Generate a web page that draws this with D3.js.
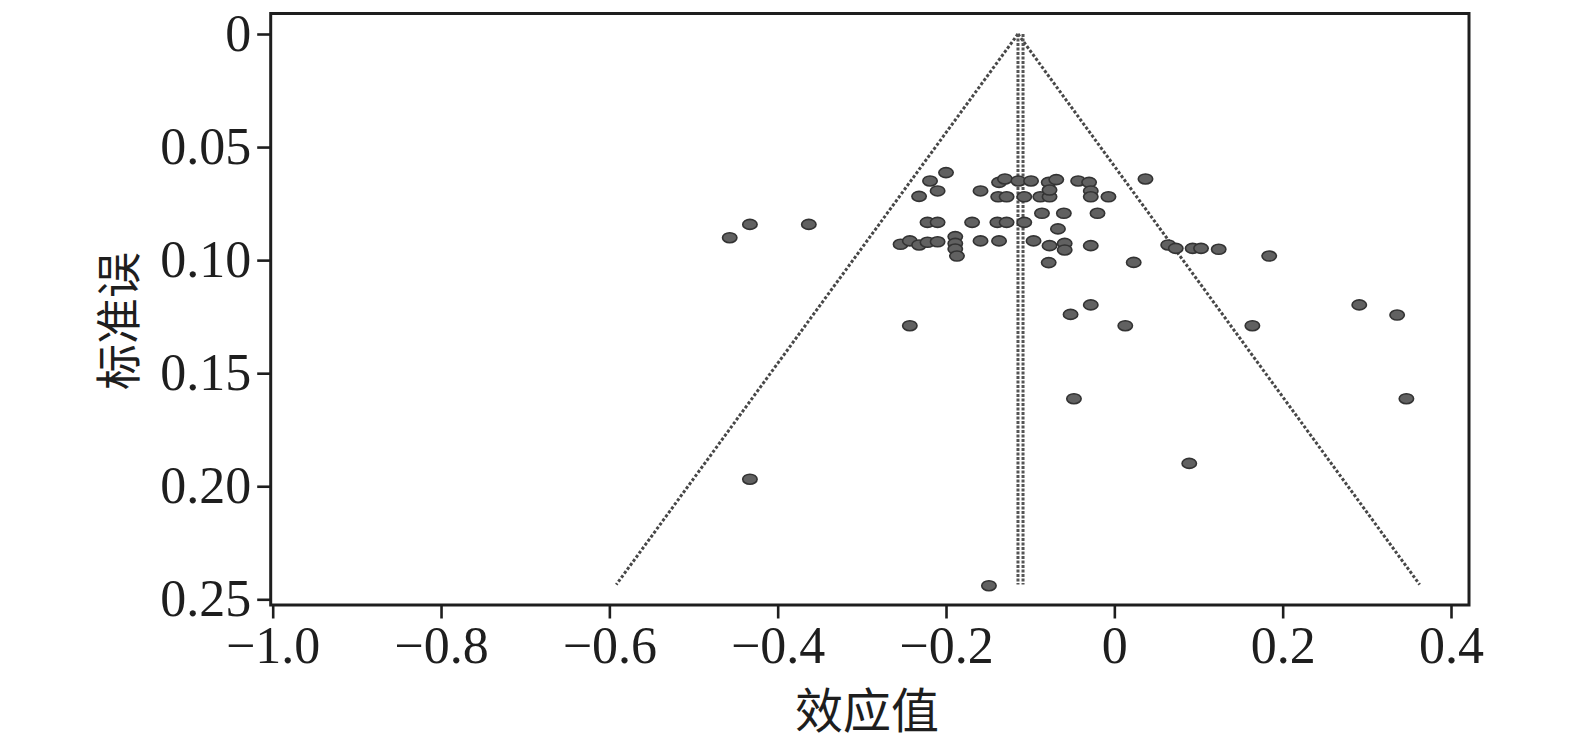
<!DOCTYPE html>
<html>
<head>
<meta charset="utf-8">
<script src="https://cdn.jsdelivr.net/npm/d3@7"></script>
<style>
  html, body { margin: 0; padding: 0; background: #fff; }
  svg { display: block; }
</style>
</head>
<body>
<div id="funnel"></div>
<script>
// 效应值 (x) 与 标准误 (y)
var effectSizes = [
  -0.457, -0.433, -0.363, -0.433, -0.243, -0.149,
  -0.200, -0.219, -0.210, -0.232, -0.222, -0.210,
  -0.254, -0.243, -0.232, -0.222, -0.210,
  -0.189, -0.189, -0.189, -0.187,
  -0.169, -0.159, -0.159, -0.137, -0.139, -0.128, -0.107,
  -0.137, -0.130, -0.114, -0.099, -0.078, -0.069, -0.043, -0.030,
  -0.138, -0.128, -0.107, -0.088, -0.077, -0.077, -0.028, -0.028, -0.007,
  0.037, -0.086, -0.060, -0.020, -0.067, -0.096,
  -0.077, -0.059, -0.059, -0.028, -0.078, 0.023,
  0.064, 0.073, 0.093, 0.103, 0.124, 0.184,
  0.291, 0.336, 0.013, 0.164, 0.347, 0.089,
  -0.052, -0.028, -0.048
];
var standardErrors = [
  0.0901, 0.0842, 0.0842, 0.1969, 0.1290, 0.2440,
  0.0613, 0.0650, 0.0694, 0.0718, 0.0833, 0.0833,
  0.0930, 0.0915, 0.0933, 0.0921, 0.0919,
  0.0896, 0.0926, 0.0951, 0.0982,
  0.0833, 0.0694, 0.0915, 0.0915, 0.0833, 0.0833, 0.0833,
  0.0656, 0.0641, 0.0650, 0.0650, 0.0656, 0.0644, 0.0650, 0.0656,
  0.0720, 0.0720, 0.0720, 0.0720, 0.0720, 0.0690, 0.0694, 0.0720, 0.0720,
  0.0641, 0.0793, 0.0793, 0.0793, 0.0862, 0.0915,
  0.0936, 0.0926, 0.0955, 0.0936, 0.1011, 0.1010,
  0.0933, 0.0948, 0.0948, 0.0948, 0.0952, 0.0982,
  0.1198, 0.1243, 0.1290, 0.1290, 0.1613, 0.1899,
  0.1240, 0.1198, 0.1613
];
var pooledEffect = -0.1145;   // 合并效应值（漏斗顶点）
var pooledEffect2 = -0.1085;  // 第二条参考线
var seMax = 0.2435;           // 漏斗底部的标准误
var zCrit = 1.96;

var xTickValues = [-1.0, -0.8, -0.6, -0.4, -0.2, 0, 0.2, 0.4];
var xTickLabels = ["\u22121.0", "\u22120.8", "\u22120.6", "\u22120.4", "\u22120.2", "0", "0.2", "0.4"];
var yTickValues = [0, 0.05, 0.10, 0.15, 0.20, 0.25];
var yTickLabels = ["0", "0.05", "0.10", "0.15", "0.20", "0.25"];
var xTitle = "效应值";
var yTitle = "标准误";

function draw() {
  var width = 1575;
  var height = 748;
  // 绘图框
  var frame = { left: 270.7, top: 13.5, right: 1469, bottom: 605 };
  var numFont = '"Liberation Serif", "Times New Roman", serif';
  var cjkFont = '"Noto Sans CJK SC", sans-serif';

  var svg = d3
    .select("#funnel")
    .append("svg")
    .attr("width", width)
    .attr("height", height)
    .attr("viewBox", [0, 0, width, height]);

  var x = d3.scaleLinear().domain([-1.0, 0.4]).range([272.7, 1451]);
  var y = d3.scaleLinear().domain([0, 0.25]).range([34, 599.3]);

  // 漏斗线
  var funnelLeft = [
    { e: pooledEffect, s: 0 },
    { e: pooledEffect - zCrit * seMax, s: seMax }
  ];
  var funnelRight = [
    { e: pooledEffect, s: 0 },
    { e: pooledEffect + zCrit * seMax, s: seMax }
  ];
  var line = d3
    .line()
    .x(function (d) { return x(d.e); })
    .y(function (d) { return y(d.s); });

  [funnelLeft, funnelRight].forEach(function (pts) {
    svg
      .append("path")
      .datum(pts)
      .attr("fill", "none")
      .attr("stroke", "#474747")
      .attr("stroke-width", 3)
      .attr("stroke-dasharray", "3,2")
      .attr("d", line);
  });

  // 合并效应竖线（两条）
  [pooledEffect, pooledEffect2].forEach(function (v) {
    svg
      .append("path")
      .datum([{ e: v, s: 0 }, { e: v, s: seMax }])
      .attr("fill", "none")
      .attr("stroke", "#555")
      .attr("stroke-width", 3)
      .attr("stroke-dasharray", "3,1.5")
      .attr("d", line);
  });

  // 散点
  var points = effectSizes.map(function (e, i) {
    return { e: e, s: standardErrors[i] };
  });
  svg
    .append("g")
    .selectAll("ellipse")
    .data(points)
    .enter()
    .append("ellipse")
    .attr("cx", function (d) { return x(d.e); })
    .attr("cy", function (d) { return y(d.s); })
    .attr("rx", 7.2)
    .attr("ry", 5)
    .attr("fill", "#616161")
    .attr("stroke", "#333")
    .attr("stroke-width", 1.6);

  // 边框
  svg
    .append("rect")
    .attr("x", frame.left)
    .attr("y", frame.top)
    .attr("width", frame.right - frame.left)
    .attr("height", frame.bottom - frame.top)
    .attr("fill", "none")
    .attr("stroke", "#1e1e1e")
    .attr("stroke-width", 3);

  // y轴
  var yAxis = svg
    .append("g")
    .attr("transform", "translate(" + frame.left + ",0)")
    .call(
      d3.axisLeft(y)
        .tickValues(yTickValues)
        .tickSize(13.5)
        .tickPadding(6)
        .tickFormat(function (d, i) { return yTickLabels[i]; })
    );
  yAxis.select(".domain").remove();
  yAxis.selectAll(".tick line").attr("stroke", "#1e1e1e").attr("stroke-width", 2.6);
  yAxis
    .selectAll(".tick text")
    .attr("fill", "#1e1e1e")
    .style("font-family", numFont)
    .style("font-size", "52px");

  // x轴
  var xAxis = svg
    .append("g")
    .attr("transform", "translate(0," + frame.bottom + ")")
    .call(
      d3.axisBottom(x)
        .tickValues(xTickValues)
        .tickSize(13.5)
        .tickPadding(8)
        .tickFormat(function (d, i) { return xTickLabels[i]; })
    );
  xAxis.select(".domain").remove();
  xAxis.selectAll(".tick line").attr("stroke", "#1e1e1e").attr("stroke-width", 2.6);
  xAxis
    .selectAll(".tick text")
    .attr("fill", "#1e1e1e")
    .style("font-family", numFont)
    .style("font-size", "52px");

  // 坐标轴标题
  svg
    .append("text")
    .attr("x", 867)
    .attr("y", 711)
    .attr("dy", "0.36em")
    .attr("text-anchor", "middle")
    .attr("fill", "#1e1e1e")
    .style("font-family", cjkFont)
    .style("font-size", "48px")
    .text(xTitle);

  svg
    .append("text")
    .attr("transform", "translate(118,321)rotate(-90)")
    .attr("dy", "0.36em")
    .attr("text-anchor", "middle")
    .attr("fill", "#1e1e1e")
    .style("font-family", cjkFont)
    .style("font-size", "46px")
    .text(yTitle);
}

draw();
</script>
</body>
</html>
